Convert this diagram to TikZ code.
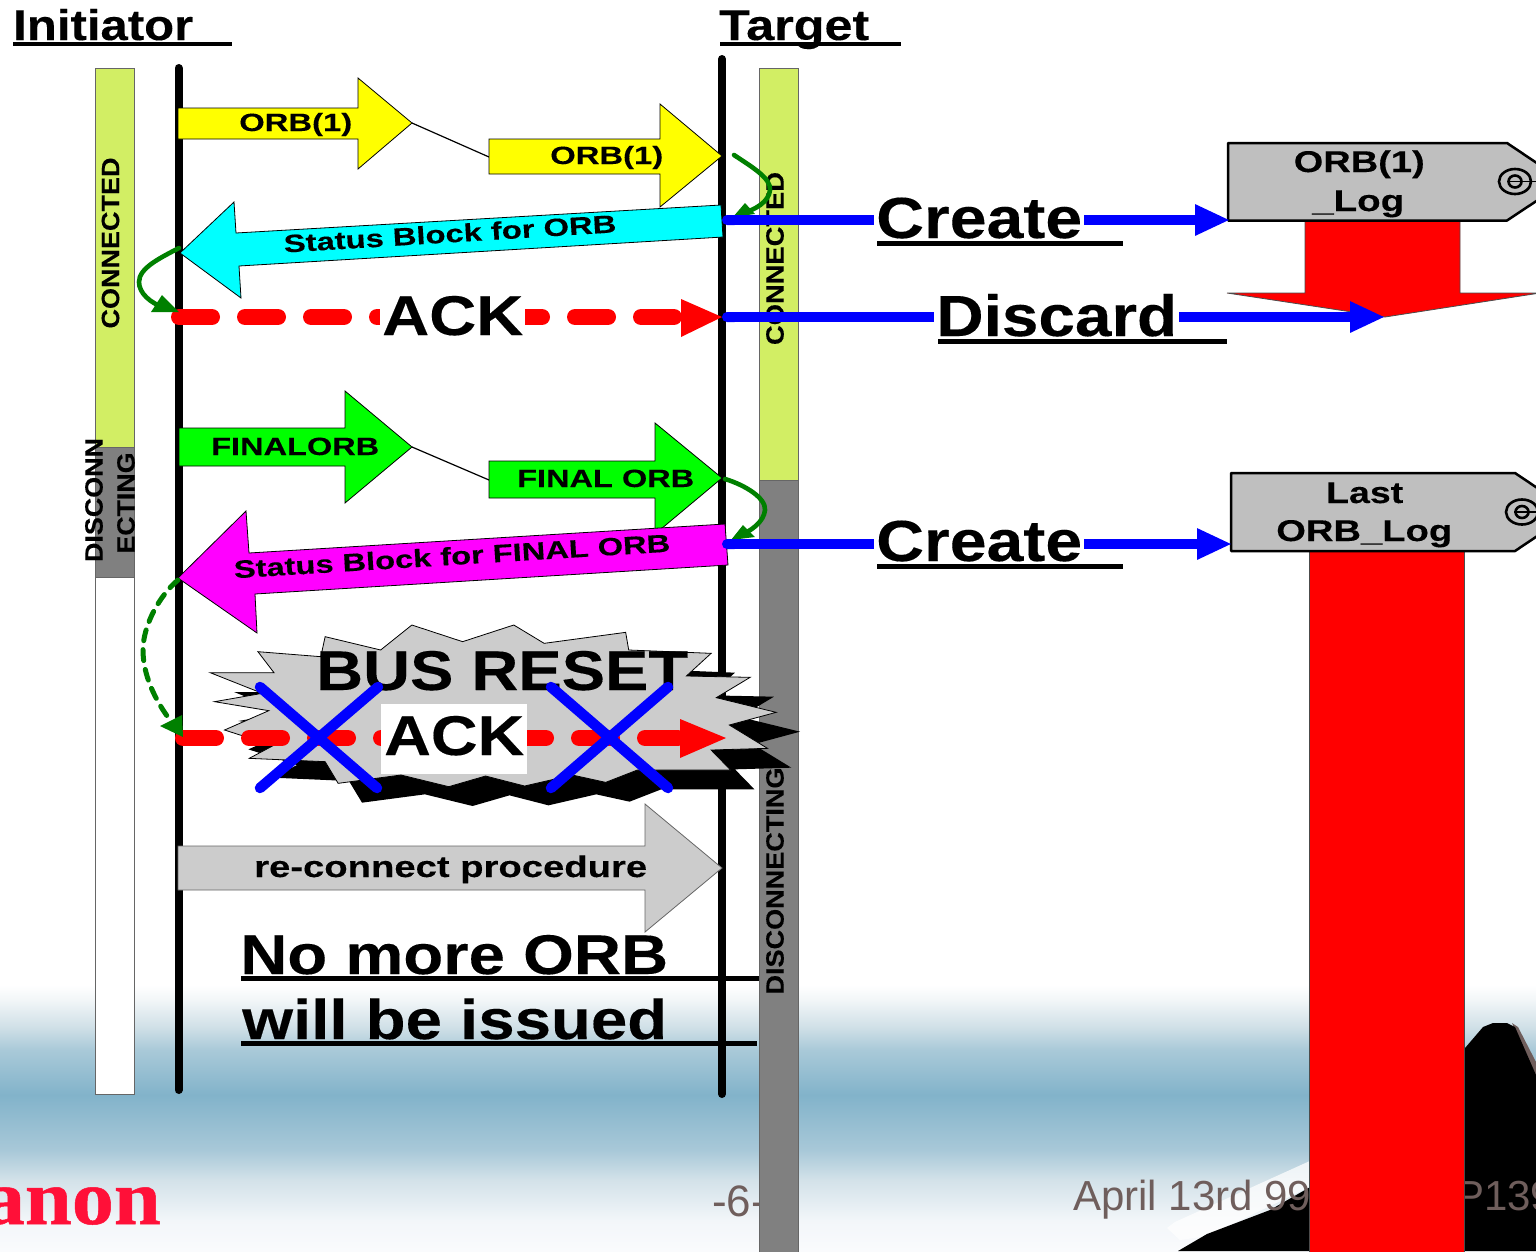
\documentclass[tikz,border=0pt]{standalone}
\usepackage{fontspec}
\usepackage{graphicx}
\setmainfont{Liberation Sans}[BoldFeatures={FakeBold=0.2}]
\newfontfamily\logofont{Liberation Serif}[BoldFeatures={FakeBold=0.6}]
\usetikzlibrary{arrows.meta}
\definecolor{barlime}{HTML}{D2EE64}
\definecolor{bargray}{HTML}{808080}
\definecolor{footgray}{HTML}{6F5E5C}
\definecolor{logored}{HTML}{FF1038}
\definecolor{tagray}{HTML}{BFBFBF}
\definecolor{burstgray}{HTML}{CCCCCC}
\definecolor{pine}{HTML}{008000}
\definecolor{pureyellow}{HTML}{FFFF00}
\definecolor{purecyan}{HTML}{00FFFF}
\definecolor{puremagenta}{HTML}{FF00FF}
\definecolor{puregreen}{HTML}{00FF00}
\definecolor{purered}{HTML}{FF0000}
\definecolor{pureblue}{HTML}{0000FF}
% width, size, text
\newcommand{\WT}[3]{{\fontsize{#2pt}{#2pt}\selectfont\bfseries\resizebox{#1pt}{\height}{#3}}}
\newcommand{\burstshape}{(450,110)--(578,150)--(650,75)--(767,125)--(885,75)--(955,130)--(1143,97)--(1150,150)--(1340,160)--(1283,228)--(1430,232)--(1352,293)--(1490,337)--(1382,375)--(1470,445)--(1340,450)--(1385,510)--(1170,510)--(1097,547)--(1020,525)--(910,558)--(820,528)--(735,560)--(625,525)--(480,550)--(450,485)--(275,475)--(330,437)--(218,390)--(320,332)--(195,305)--(305,280)--(185,218)--(332,218)--(295,155)--(440,170)--cycle}
\tikzset{
  txt/.style={anchor=base west,inner sep=0pt},
  txtw/.style={anchor=base west,inner xsep=2pt,inner ysep=1pt,fill=white},
  vtxt/.style={rotate=90,anchor=center,inner sep=0pt},
  footer/.style={anchor=base west,inner sep=0pt,text=footgray,font=\fontsize{42pt}{42pt}\selectfont},
  bar/.style={draw=black!60,line width=1pt},
  lifeline/.style={line width=8pt,line cap=round,black},
  block/.style={draw=black,line width=0.8pt,line join=miter},
  link/.style={draw=black,line width=1.2pt},
  ulinestyle/.style={black,line width=5pt},
  headline/.style={black,line width=4pt},
  bluelink/.style={pureblue,line width=10pt,{Round Cap[length=5pt]}-},
  bluetip/.style={pureblue,line width=10pt,-{Triangle[length=35pt,width=29pt]}},
  reddash/.style={purered,line width=16pt,line cap=round,dash pattern=on 33pt off 33pt},
  redhead/.style={fill=purered},
  greencurve/.style={pine,line width=4.6pt,line cap=round},
  cross/.style={pureblue,line width=10.5pt,line cap=round},
  tagshape/.style={fill=tagray,draw=black,line width=2.5pt,line join=round},
  redblock/.style={fill=purered,draw=black!70,line width=0.8pt},
}
\begin{document}
\begin{tikzpicture}[x=1pt,y=-1pt]
\useasboundingbox (0,0) rectangle (1536,1251);
\clip (0,0) rectangle (1536,1251);
\fill[white] (0,0) rectangle (1536,1251);
% footer band
\foreach \ya/\ca/\yb/\cb in {985/FFFFFF/1000/F2F6F8,1000/F2F6F8/1027/D0E0E7,1027/D0E0E7/1050/A9C9D8,1050/A9C9D8/1095/82B3CA,1095/82B3CA/1150/A8C8D8,1150/A8C8D8/1180/D3E2E9,1180/D3E2E9/1220/F2F6F9,1220/F2F6F9/1251/FAFBFD}{
  \definecolor{ctop}{HTML}{\ca}\definecolor{cbot}{HTML}{\cb}
  \shade[top color=ctop,bottom color=cbot] (0,\ya) rectangle (1536,\yb);
}
% mountain
\fill[white,opacity=.75] (1167,1228)--(1175,1222)--(1312,1160)--(1312,1186)--(1207,1236)--(1180,1240)--cycle;
\fill[footgray] (1512,1023)--(1518,1027)--(1536,1062)--(1536,1080)--cycle;
\fill[black] (1178,1251)--(1207,1234)--(1270,1210)--(1312,1186)--(1312,1100)--(1465,1048)--(1483,1027)--(1493,1023)--(1507,1023)--(1515,1027)--(1536,1075)--(1536,1251)--cycle;
\node[footer] (datetext) at (1073,1210) {April 13rd 99};
\node[footer] (refno) at (1456,1210) {P139};
\node[footer,font=\fontsize{44pt}{44pt}\selectfont] (pageno) at (712,1216) {-6-};
\node[anchor=base east,inner sep=0pt,text=logored] (logo) at (161,1224) {\logofont\bfseries\fontsize{78pt}{78pt}\selectfont\scalebox{1.08}[1]{anon}};
% state bars
\filldraw[bar,fill=barlime] (95,68) rectangle (134,447);
\filldraw[bar,fill=bargray] (95,447) rectangle (134,577);
\filldraw[bar,fill=white] (95,577) rectangle (134,1094);
\filldraw[bar,fill=barlime] (759,68) rectangle (798,480);
\filldraw[bar,fill=bargray] (759,480) rectangle (798,1260);
\node[vtxt] (leftconn) at (110.5,243) {\WT{171}{25}{CONNECTED}};
\node[vtxt] (leftdisc1) at (94,500) {\WT{124}{25}{DISCONN}};
\node[vtxt] (leftdisc2) at (126,503) {\WT{101}{25}{ECTING}};
\node[vtxt] (rightconn) at (775,258.5) {\WT{173}{25}{CONNECTED}};
\node[vtxt] (rightdisc) at (775,881) {\WT{227}{25}{DISCONNECTING}};
% lifelines
\coordinate (inittop) at (178.5,68); \coordinate (initbot) at (178.5,1090);
\coordinate (targtop) at (722,59); \coordinate (targbot) at (722,1094);
\draw[lifeline] (inittop) -- (initbot);
\draw[lifeline] (targtop) -- (targbot);
% headers
\node[txt] (inithead) at (13,40) {\WT{180}{43}{Initiator}};
\node[txt] (targhead) at (719,40) {\WT{150}{43}{Target}};
\draw[headline] (13,44) -- (232,44);
\draw[headline] (720,44) -- (901,44);
% ORB arrows
\coordinate (orbatip) at (412,123); \coordinate (orbbtail) at (489,157);
\draw[link] (orbatip) -- (orbbtail);
\filldraw[block,fill=pureyellow] (178,108)--(358,108)--(358,78)--(orbatip)--(358,169)--(358,139)--(178,139)--cycle;
\filldraw[block,fill=pureyellow] (489,139)--(660,139)--(660,104)--(722,156)--(660,207)--(660,174)--(489,174)--cycle;
\node[txt] (orba) at (239,131) {\WT{113}{25}{ORB(1)}};
\node[txt] (orbb) at (550,164) {\WT{113}{25}{ORB(1)}};
% status block
\filldraw[block,fill=purecyan] (721,205)--(236,233)--(234,202)--(180,253)--(241,298)--(239,266)--(723,237)--cycle;
\node[rotate=3.5,anchor=center,inner sep=0pt] (statusa) at (450,233.5) {\WT{333}{25}{Status Block for ORB}};
% ACK 1
\coordinate (ackstart) at (179,317); \coordinate (ackneck) at (681,317); \coordinate (acktip) at (722,317);
\draw[reddash] (ackstart) -- (ackneck);
\fill[redhead] (681,299)--(acktip)--(681,337)--cycle;
\node[txtw] (acka) at (380,335) {\WT{141}{56}{ACK}};
% curved arrows upper
\coordinate (gra) at (734,155); \coordinate (grb) at (740,214);
\draw[greencurve] (gra) .. controls (752,167) and (771,178) .. (770,190) .. controls (769,202) and (755,210) .. (grb);
\fill[pine] (745,203)--(733,217)--(755,214)--cycle;
\coordinate (gla) at (179,248); \coordinate (glb) at (165,308);
\draw[greencurve] (gla) .. controls (160,258) and (139,268) .. (139,282) .. controls (139,293) and (150,303) .. (glb);
\fill[pine] (162,295)--(151,312)--(179,312)--cycle;
% Final ORB
\coordinate (fatip) at (412,447); \coordinate (fbtail) at (489,480);
\draw[link] (fatip) -- (fbtail);
\filldraw[block,fill=puregreen] (179,428)--(345,428)--(345,391)--(fatip)--(345,503)--(345,466)--(179,466)--cycle;
\filldraw[block,fill=puregreen] (489,461)--(655,461)--(655,423)--(722,478)--(655,534)--(655,498)--(489,498)--cycle;
\node[txt] (fina) at (211,455) {\WT{168}{25}{FINALORB}};
\node[txt] (finb) at (517,487) {\WT{177}{25}{FINAL ORB}};
\filldraw[block,fill=puremagenta] (725,524)--(249,553)--(246,511)--(178,578)--(257,633)--(255,594)--(728,565)--cycle;
\node[rotate=3.5,anchor=center,inner sep=0pt] (statusb) at (452,556) {\WT{437}{25}{Status Block for FINAL ORB}};
\coordinate (grc) at (725,479); \coordinate (grd) at (738,536);
\draw[greencurve] (grc) .. controls (745,485) and (766,498) .. (765,510) .. controls (764,522) and (750,532) .. (grd);
\fill[pine] (743,525)--(731,540)--(755,537)--cycle;
% burst with shadow
\begin{scope}[shift={(130,600)},x=0.43365pt,y=-0.33333pt]
  \fill[black,shift={(55,58)}] \burstshape;
  \filldraw[fill=burstgray,draw=black,line width=0.8pt] \burstshape;
\end{scope}
% ACK 2
\coordinate (lostack) at (183,738); \coordinate (lostneck) at (680,738); \coordinate (losttip) at (726,738);
\draw[reddash] (lostack) -- (lostneck);
\fill[redhead] (680,719)--(losttip)--(680,758)--cycle;
\fill[white] (381,704) rectangle (527,774);
\node[txt] (ackb) at (384,755) {\WT{140}{56}{ACK}};
\node[txt] (busreset) at (316,690) {\WT{372}{56}{BUS RESET}};
\draw[cross] (260,687) -- (377,788);
\draw[cross] (378,687) -- (260,788);
\draw[cross] (551,687) -- (668,788);
\draw[cross] (668,687) -- (551,788);
% dashed curve
\coordinate (gda) at (178,580); \coordinate (gdb) at (170,720);
\draw[pine,line width=5pt,dash pattern=on 11pt off 9pt,line cap=round] (gda) .. controls (160,595) and (143,625) .. (143,650) .. controls (143,675) and (155,700) .. (gdb);
\fill[pine] (182,715)--(160,726)--(183,737)--cycle;
% reconnect
\filldraw[block,fill=burstgray,draw=black!60] (178,846)--(645,846)--(645,804)--(722,868)--(645,932)--(645,890)--(178,890)--cycle;
\node[txt] (reconn) at (254,877) {\WT{393}{30}{re-connect procedure}};
% no more ORB
\node[txt] (nomore) at (240,974) {\WT{428}{56}{No more ORB}};
\node[txt] (willbe) at (242,1039) {\WT{425}{56}{will be issued}};
\draw[ulinestyle] (241,978) -- (759,978);
\draw[ulinestyle] (241,1043) -- (757,1043);
% red block arrows
\filldraw[redblock] (1305,220)--(1460,220)--(1460,293)--(1540,293)--(1385,317)--(1227,293)--(1305,293)--cycle;
\filldraw[redblock] (1309,551) rectangle (1464,1260);
% tags
\filldraw[tagshape] (1228,143)--(1507,143)--(1565,182)--(1507,220.5)--(1228,220.5)--cycle;
\filldraw[tagshape] (1231,473)--(1515,473)--(1573,512)--(1515,551)--(1231,551)--cycle;
\coordinate (tagaw) at (1230,220); \coordinate (tagbw) at (1232,544);
\coordinate (discardtip) at (1385,317);
\foreach \cx/\cy in {1515/181.5,1522/512}{
  \draw[black,line width=2.6pt] (\cx,\cy) ellipse [x radius=16pt,y radius=12.5pt];
  \draw[black,line width=2.6pt] (\cx,\cy) ellipse [x radius=6.5pt,y radius=6pt];
  \draw[black,line width=1.4pt] (\cx-8,\cy) -- (1536,\cy);
}
\node[txt] (loga) at (1293.5,172) {\WT{131}{30}{ORB(1)}};
\node[txt] (logb) at (1312,211) {\WT{92}{30}{\_Log}};
\node[txt] (logc) at (1326,503) {\WT{77}{30}{Last}};
\node[txt] (logd) at (1276,541) {\WT{176}{30}{ORB\_Log}};
% actions
\coordinate (ca) at (722,220); \coordinate (da) at (722,317); \coordinate (cb) at (722,544);
\node[txtw] (createa) at (874,238) {\WT{206}{58}{Create}};
\node[txtw] (discard) at (934,336) {\WT{241}{58}{Discard}};
\node[txtw] (createb) at (874,561) {\WT{206}{58}{Create}};
\draw[bluelink] (ca) -- (createa.west |- ca);
\draw[bluetip] (createa.east |- ca) -- (tagaw);
\draw[bluelink] (da) -- (discard.west |- da);
\draw[bluetip] (discard.east |- da) -- (discardtip);
\draw[bluelink] (cb) -- (createb.west |- cb);
\draw[bluetip] (createb.east |- cb) -- (tagbw);
\draw[ulinestyle] (877,243) -- (1123,243);
\draw[ulinestyle] (938,341) -- (1227,341);
\draw[ulinestyle] (877,566) -- (1123,566);
\end{tikzpicture}
\end{document}
